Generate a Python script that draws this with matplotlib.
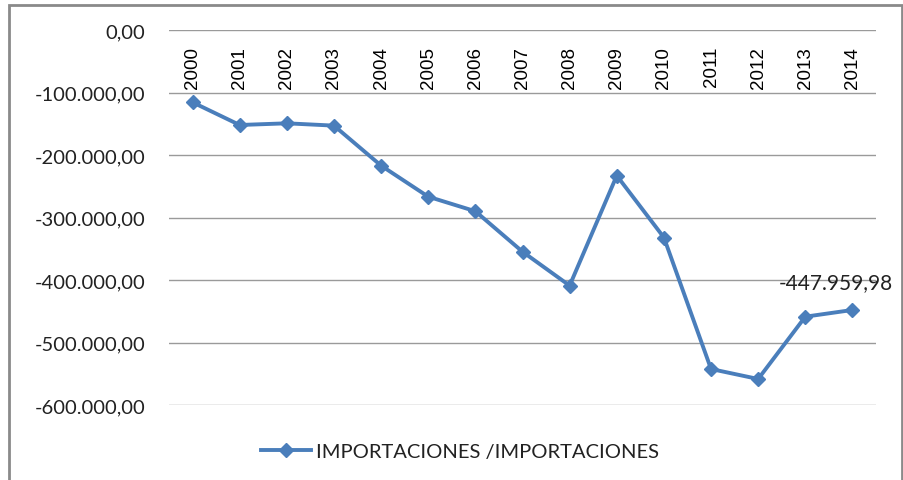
import matplotlib
matplotlib.use('Agg')
import matplotlib.pyplot as plt
from matplotlib.patches import Rectangle
from matplotlib.ticker import FuncFormatter, MultipleLocator

# Data
years = ['2000', '2001', '2002', '2003', '2004', '2005', '2006', '2007',
         '2008', '2009', '2010', '2011', '2012', '2013', '2014']
importaciones = [-115700, -152000, -149300, -153000, -217000, -266700, -290000,
                 -354700, -409000, -233000, -332000, -542400, -558400, -458700,
                 -447959.98]
series_label = 'IMPORTACIONES /IMPORTACIONES'

LINE_COLOR = '#4A7EBB'
GRID_COLOR = '#9a9a9a'
FONT = ['Lato', 'DejaVu Sans']
FS = 14.5


def es_format(v, pos=None):
    """Spanish number format: 1.234,56"""
    s = f'{v:,.2f}'
    return s.replace(',', 'X').replace('.', ',').replace('X', '.')


fig = plt.figure(figsize=(9.04, 4.81), dpi=100)
ax = fig.add_axes([169 / 904, 1 - 406 / 481, (876 - 169) / 904, 375 / 481])

x = list(range(len(years)))
ax.plot(x, importaciones, color=LINE_COLOR, linewidth=2.8, marker='D',
        markersize=7.5, markerfacecolor=LINE_COLOR, markeredgecolor=LINE_COLOR,
        label=series_label, zorder=3)

ax.set_xlim(-0.5, len(years) - 0.5)
ax.set_ylim(-600000, 0)
ax.yaxis.set_major_locator(MultipleLocator(100000))
ax.yaxis.set_major_formatter(FuncFormatter(es_format))
ax.grid(axis='y', color=GRID_COLOR, linewidth=1)
ax.set_axisbelow(True)
for s in ax.spines.values():
    s.set_visible(False)
ax.set_xticks([])
ax.tick_params(axis='y', length=0, pad=17, labelsize=FS)
for lab in ax.get_yticklabels():
    lab.set_family(FONT)
    lab.set_color('#222222')

# category labels hanging under the zero line
for xi, yr in zip(x, years):
    ax.annotate(yr, xy=(xi, 0), xytext=(0, -11.5), textcoords='offset points',
                rotation=90, ha='center', va='top', fontsize=13.5,
                family=['Liberation Sans', 'DejaVu Sans'], color='black')

# data label on the last point
ax.annotate(es_format(importaciones[-1]), xy=(x[-1], importaciones[-1]),
            xytext=(-12, 20), textcoords='offset points', ha='center',
            va='center', fontsize=FS + 0.5, family=FONT, color='#222222',
            annotation_clip=False)

leg = fig.legend(loc='center', bbox_to_anchor=(460 / 904, 1 - 452 / 481),
                 frameon=False, handlelength=2.5, handletextpad=0.25,
                 prop={'family': FONT, 'size': FS})
for t in leg.get_texts():
    t.set_color('#222222')

# outer chart frame
fig.patches.append(Rectangle((9 / 904, -0.1), (902 - 9) / 904, 1.1 - 6 / 481,
                             transform=fig.transFigure, fill=False,
                             edgecolor='#8a8a8a', linewidth=2))

fig.savefig('out.png', dpi=100)
